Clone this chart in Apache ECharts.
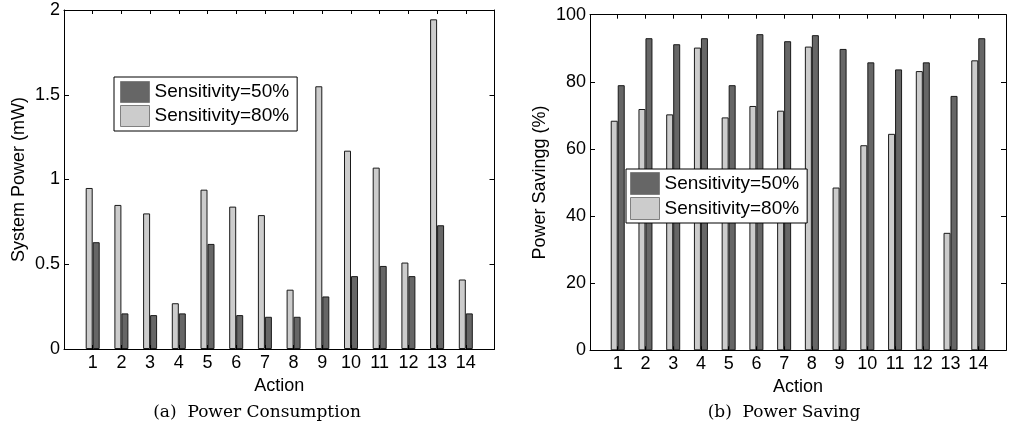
<!DOCTYPE html>
<html>
<head>
<meta charset="utf-8">
<script src="https://cdn.jsdelivr.net/npm/echarts@6/dist/echarts.min.js"></script>
<style>
html,body{margin:0;padding:0;background:#fff;}
#chart{width:1009px;height:429px;}
</style>
</head>
<body>
<div id="chart"></div>
<script>
const categories = ['1','2','3','4','5','6','7','8','9','10','11','12','13','14'];
const powerS50 = [0.63,0.21,0.20,0.21,0.62,0.20,0.19,0.19,0.31,0.43,0.49,0.43,0.73,0.21];
const powerS80 = [0.95,0.85,0.80,0.27,0.94,0.84,0.79,0.35,1.55,1.17,1.07,0.51,1.945,0.41];
const savingS50 = [79,93,91.2,93,79,94.2,92.1,93.9,89.8,85.8,83.7,85.8,75.8,93];
const savingS80 = [68.4,71.9,70.3,90.2,69.4,72.8,71.4,90.5,48.5,61.1,64.5,83.2,35.0,86.4];
const powerTicks = {min:0, max:2, interval:0.5};
const savingTicks = {min:0, max:100, interval:20};
const seriesNames = ['Sensitivity=50%','Sensitivity=80%'];
const captions = ['(a)  Power Consumption','(b)  Power Saving'];

const FONT = 'Liberation Sans';
const DARK = '#666666', LIGHT = '#cccccc';
const padCats = [''].concat(categories, ['']);
const pad = a => [null].concat(a, [null]);

function xAx(grid, pos){
  return {
    type:'category', gridIndex:grid, position:pos, data:padCats, boundaryGap:false, z:3,
    name: pos==='bottom' ? 'Action' : '', nameLocation:'middle', nameGap:24,
    nameTextStyle:{fontFamily:FONT,fontSize:18,color:'#000'},
    axisLine:{show:true,onZero:false,lineStyle:{color:'#000',width:1}},
    axisTick:{show:true,inside:true,length:4,interval:0,lineStyle:{color:'#000'}},
    axisLabel:{show:pos==='bottom',interval:0,margin:5,fontFamily:FONT,fontSize:18,color:'#000'},
    splitLine:{show:false}
  };
}
function yAx(grid, pos, t, name, gap){
  return {
    type:'value', gridIndex:grid, position:pos, min:t.min, max:t.max, interval:t.interval, z:3,
    name: name, nameLocation:'middle', nameGap:gap, nameRotate:90,
    nameTextStyle:{fontFamily:FONT,fontSize:18,color:'#000'},
    axisLine:{show:true,lineStyle:{color:'#000',width:1}},
    axisTick:{show:true,inside:true,length:5,lineStyle:{color:'#000'}},
    axisLabel:{show:pos==='left',margin:4,fontFamily:FONT,fontSize:18,color:'#000'},
    splitLine:{show:false}
  };
}
function bar(name, data, xi, yi, color){
  return {
    name:name, type:'bar', xAxisIndex:xi, yAxisIndex:yi, data:pad(data),
    barWidth:7, barGap:'0%', z:2,
    itemStyle:{color:color, borderColor:'#1a1a1a', borderWidth:1}
  };
}
function leg(left, top, h, padding){
  return {
    data:seriesNames, orient:'vertical', left:left, top:top,
    itemWidth:29, itemHeight:h, itemGap:2, padding:padding,
    backgroundColor:'#fff', borderColor:'#000', borderWidth:1,
    icon:'rect', selectedMode:false, z:10,
    itemStyle:{borderColor:'#808080', borderWidth:1},
    textStyle:{fontFamily:FONT,fontSize:19,color:'#000'}
  };
}

const chart = echarts.init(document.getElementById('chart'), null, {renderer:'canvas'});
chart.setOption({
  animation:false,
  backgroundColor:'#fff',
  grid:[
    {left:64, right:514.5, top:10, bottom:80},
    {left:590, right:-8.2, top:14.7, bottom:78.7}
  ],
  xAxis:[xAx(0,'bottom'), xAx(0,'top'), xAx(1,'bottom'), xAx(1,'top')],
  yAxis:[
    yAx(0,'left',powerTicks,'System Power (mW)',36), yAx(0,'right',powerTicks,'',0),
    yAx(1,'left',savingTicks,'Power Savingg (%)',41), yAx(1,'right',savingTicks,'',0)
  ],
  legend:[
    leg(114, 77, 21, [4,8,4,6]),
    leg(626, 169, 22, [3,8,3,4])
  ],
  series:[
    bar(seriesNames[1], powerS80, 0, 0, LIGHT),
    bar(seriesNames[0], powerS50, 0, 0, DARK),
    bar(seriesNames[1], savingS80, 2, 2, LIGHT),
    bar(seriesNames[0], savingS50, 2, 2, DARK)
  ],
  graphic:[
    {type:'text', x:257, y:404, style:{text:captions[0], fill:'#000', font:'17px "DejaVu Serif"', textAlign:'center'}},
    {type:'text', x:784, y:404, style:{text:captions[1], fill:'#000', font:'17px "DejaVu Serif"', textAlign:'center'}}
  ]
});
</script>
</body>
</html>
